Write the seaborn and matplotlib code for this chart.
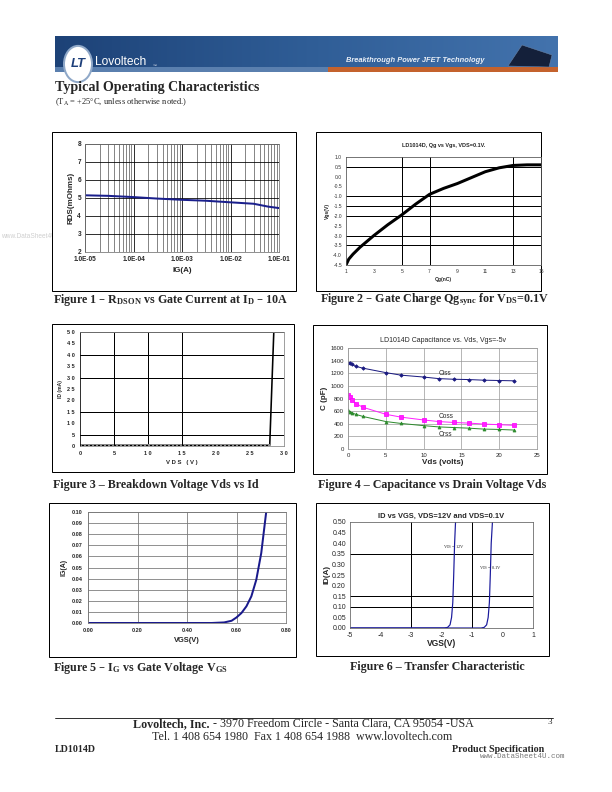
import numpy as np
import pandas as pd
import matplotlib
matplotlib.use("Agg")
import matplotlib.pyplot as plt
import seaborn as sns
from matplotlib.patches import Rectangle, Circle, Polygon
from matplotlib.ticker import LogLocator, NullFormatter

sns.set_style("white")
plt.rcParams['font.family'] = ['Liberation Sans', 'DejaVu Sans']
plt.rcParams['mathtext.default'] = 'regular'
plt.rcParams['axes.unicode_minus'] = False

W, H = 612, 792

# Figure 1 - RDSON vs gate current
ig_1 = [1e-5, 3e-5, 1e-4, 3e-4, 1e-3, 3e-3, 1e-2, 3e-2, 6e-2, 1e-1]
rds_1 = [5.15, 5.12, 5.05, 4.97, 4.90, 4.85, 4.76, 4.68, 4.52, 4.44]

# Figure 2 - gate charge
qg_2 = [1, 1.2, 1.5, 2, 3, 4, 5, 6, 7, 8, 9, 10, 11, 12, 13, 14, 15]
vgs_2 = [-4.5, -4.2, -3.95, -3.6, -3.0, -2.45, -1.95, -1.4, -0.9, -0.6,
         -0.35, -0.05, 0.25, 0.45, 0.57, 0.6, 0.6]

# Figure 3 - breakdown
vds_3 = [0, 27.9, 28.5]
id_3 = [0.3, 0.3, 50]

# Figure 4 - capacitance
vds_4 = [0, 0.2, 0.5, 1, 2, 5, 7, 10, 12, 14, 16, 18, 20, 22]
ciss = [1370, 1360, 1340, 1310, 1280, 1210, 1170, 1140, 1115, 1105, 1100, 1090, 1085, 1080]
coss = [860, 830, 780, 720, 660, 550, 505, 460, 435, 420, 410, 395, 385, 375]
crss = [610, 590, 575, 550, 515, 435, 405, 370, 350, 340, 330, 315, 310, 300]

# Figure 5 - IG vs VGS
vgs_5 = [0, 0.50, 0.55, 0.58, 0.60, 0.62, 0.64, 0.66, 0.68, 0.70, 0.72]
ig_5 = [0, 0, 0.0005, 0.002, 0.005, 0.009, 0.015, 0.024, 0.039, 0.063, 0.1]

# Figure 6 - transfer characteristic
vgs_12v = [-5, -1.9, -1.8, -1.72, -1.67, -1.63, -1.6, -1.57, -1.54]
id_12v = [0, 0, 0.003, 0.015, 0.05, 0.12, 0.25, 0.4, 0.5]
vgs_01v = [-5, -0.7, -0.6, -0.52, -0.47, -0.43, -0.4, -0.37, -0.33]
id_01v = [0, 0, 0.003, 0.015, 0.05, 0.12, 0.25, 0.4, 0.5]

fig = plt.figure(figsize=(W / 72, H / 72), dpi=72)


def box(x0, y0, x1, y1):
    return [x0 / W, 1 - y1 / H, (x1 - x0) / W, (y1 - y0) / H]


def ftext(x, y, s, **kw):
    kw.setdefault('va', 'center')
    return fig.text(x / W, 1 - y / H, s, **kw)


def frame(x0, y0, x1, y1, **kw):
    kw.setdefault('ec', 'black')
    kw.setdefault('lw', 1)
    kw.setdefault('fc', 'white')
    kw.setdefault('zorder', -0.5)
    r = Rectangle((x0 / W, 1 - y1 / H), (x1 - x0) / W, (y1 - y0) / H,
                  transform=fig.transFigure, **kw)
    fig.patches.append(r)
    return r


serif = dict(family=['Liberation Serif', 'DejaVu Serif'])

# ---------- header banner ----------
ax_b = fig.add_axes(box(55, 36, 558, 72))
grad = np.linspace(0, 1, 256).reshape(1, -1)
cmap = matplotlib.colors.LinearSegmentedColormap.from_list('bn', ['#1d4277', '#2f5d96', '#4373ad'])
ax_b.imshow(grad, aspect='auto', cmap=cmap, extent=[0, 1, 0, 1])
ax_b.set_axis_off()
frame(55, 67, 328, 72, ec='none', fc='#5a7fae', zorder=1)
frame(328, 67, 558, 72, ec='none', fc='#c4622d', zorder=1)
fig.patches.append(Polygon([(508 / W, 1 - 66 / H), (522 / W, 1 - 45 / H), (552 / W, 1 - 55 / H),
                            (549 / W, 1 - 67 / H)], closed=True, transform=fig.transFigure,
                           fc='#14203a', ec='#6b85a8', lw=0.5, zorder=2))
fig.patches.append(Circle((78 / W, 1 - 64 / H), 14 / W, transform=fig.transFigure,
                          fc='white', ec='#8fa8c8', lw=2, zorder=2))
ftext(78, 64, 'LT', color='#1d3f7a', size=13, weight='bold', ha='center', style='italic')
ftext(95, 62, 'Lovoltech', color='white', size=12)
ftext(153, 66, '™', color='white', size=4)
ftext(415, 60, 'Breakthrough Power JFET Technology', color='#e8eef6', size=7.5,
      weight='bold', style='italic', ha='center')

ftext(55, 88, 'Typical Operating Characteristics', size=14, weight='bold', **serif)
ftext(55, 102, '(T$_A$ = +25°C, unless otherwise noted.)', size=8.5, **serif)

# watermark (partly hidden behind the first panel)
ftext(1, 236, 'www.DataSheet4U.com', color='#cfcfcf', size=6.5, zorder=-1)

# ---------- Figure 1 ----------
frame(52, 132, 296, 291)
ax1 = fig.add_axes(box(85, 144, 279, 252))
sns.lineplot(x=ig_1, y=rds_1, ax=ax1, color='#1a1f8c', lw=2, estimator=None)
ax1.set_xscale('log')
ax1.set_xlim(1e-5, 1e-1)
ax1.set_ylim(2, 8)
ax1.set_xticks([1e-5, 1e-4, 1e-3, 1e-2, 1e-1])
ax1.set_xticklabels(['1.0E-05', '1.0E-04', '1.0E-03', '1.0E-02', '1.0E-01'])
ax1.xaxis.set_minor_locator(LogLocator(base=10, subs=np.arange(2, 10)))
ax1.xaxis.set_minor_formatter(NullFormatter())
ax1.grid(True, which='major', color='black', lw=0.8)
ax1.grid(True, which='minor', axis='x', color='#555555', lw=0.7)
ax1.tick_params(labelsize=6.5, length=2, pad=2, which='major')
ax1.tick_params(which='minor', length=0)
for t in ax1.get_xticklabels() + ax1.get_yticklabels():
    t.set_fontweight('bold')
ax1.set_xlabel('IG(A)', size=8, weight='bold', labelpad=4)
ax1.set_ylabel('RDS(mOhms)', size=8, weight='bold', labelpad=3)
for s in ax1.spines.values():
    s.set_color('#777777')
ftext(53, 300, 'Figure 1 – R$_{DSON}$ vs Gate Current at I$_D$ – 10A', size=12, weight='bold', **serif)

# ---------- Figure 2 ----------
frame(316, 132, 541, 291)
ax2 = fig.add_axes(box(346, 157, 541, 265))
sns.lineplot(x=qg_2, y=vgs_2, ax=ax2, color='black', lw=3, estimator=None)
ax2.set_xlim(1, 15)
ax2.set_ylim(-4.5, 1.0)
ax2.set_xticks(range(1, 16, 2))
ax2.set_yticks(np.arange(-4.5, 1.01, 0.5))
ax2.set_yticklabels([f'{v:.1f}' for v in np.arange(-4.5, 1.01, 0.5)])
for v in [0.5, -1.0, -1.5, -2.0, -3.0, -3.5]:
    ax2.axhline(v, color='black', lw=1, zorder=0)
for v in [5, 7, 13]:
    ax2.axvline(v, color='black', lw=1, zorder=0)
ax2.tick_params(labelsize=5, length=2, pad=2, colors='#333333')
ax2.set_xlabel('Qg(nC)', size=5, weight='bold', labelpad=3)
ax2.set_ylabel('Vgs(V)', size=5, weight='bold', labelpad=3)
ax2.set_title('LD1014D, Qg vs Vgs, VDS=0.1V.', size=5.5, weight='bold', pad=10)
for s in ax2.spines.values():
    s.set_color('#555555')
ftext(320, 300, 'Figure 2 – Gate Charge Qg$_{sync}$ for V$_{DS}$=0.1V', size=12, weight='bold', **serif)

# ---------- Figure 3 ----------
frame(52, 324, 294, 472)
ax3 = fig.add_axes(box(80, 332, 284, 446))
sns.lineplot(x=vds_3, y=id_3, ax=ax3, color='black', lw=1.6, estimator=None)
ax3.plot([0, 27.9], [0.3, 0.3], color='#888888', lw=2, ls=(0, (1, 1)))
ax3.set_xlim(0, 30)
ax3.set_ylim(0, 50)
ax3.set_xticks(range(0, 31, 5))
ax3.set_xticklabels(['0', '5', '1 0', '1 5', '2 0', '2 5', '3 0'])
ax3.set_yticks(range(0, 51, 5))
ax3.set_yticklabels(['0', '5', '1 0', '1 5', '2 0', '2 5', '3 0', '3 5', '4 0', '4 5', '5 0'])
for v in [50, 40, 30, 15, 5]:
    ax3.axhline(v, color='black', lw=1, zorder=0)
for v in [5, 10, 15]:
    ax3.axvline(v, color='black', lw=1, zorder=0)
ax3.tick_params(labelsize=5.5, length=2, pad=3)
for t in ax3.get_xticklabels() + ax3.get_yticklabels():
    t.set_fontweight('bold')
ax3.set_xlabel('V D S   ( V )', size=6, weight='bold', labelpad=4)
ax3.set_ylabel('ID (mA)', size=5, weight='bold', labelpad=4)
for s in ax3.spines.values():
    s.set_color('#888888')
ax3.spines['left'].set_color('black')
ftext(53, 485, 'Figure 3 – Breakdown Voltage Vds vs Id', size=12, weight='bold', **serif)

# ---------- Figure 4 ----------
frame(313, 325, 547, 474)
ax4 = fig.add_axes(box(348, 348, 537, 449))
sns.lineplot(x=vds_4, y=ciss, ax=ax4, color='#1a1a80', lw=1, marker='D', markersize=2.5,
             markeredgecolor='#1a1a80', estimator=None)
sns.lineplot(x=vds_4, y=coss, ax=ax4, color='#ff22ff', lw=1, marker='s', markersize=4,
             markeredgecolor='#ff00ff', estimator=None)
sns.lineplot(x=vds_4, y=crss, ax=ax4, color='#2e8b2e', lw=1, marker='^', markersize=3,
             markeredgecolor='#2e8b2e', estimator=None)
ax4.set_xlim(0, 25)
ax4.set_ylim(0, 1600)
ax4.set_xticks(range(0, 26, 5))
ax4.set_yticks(range(0, 1601, 200))
ax4.grid(True, color='#999999', lw=0.7)
ax4.tick_params(labelsize=6, length=2, pad=2)
ax4.text(12, 1170, 'Ciss', size=6.5)
ax4.text(12, 490, 'Coss', size=6.5)
ax4.text(12, 210, 'Crss', size=6.5)
ax4.set_xlabel('Vds (volts)', size=8, weight='bold', labelpad=1)
ax4.set_ylabel('C (pF)', size=8, weight='bold', labelpad=2)
ax4.set_title('LD1014D Capacitance vs. Vds, Vgs=-5v', size=7, pad=6)
for s in ax4.spines.values():
    s.set_color('#999999')
ftext(318, 485, 'Figure 4 – Capacitance vs Drain Voltage Vds', size=12, weight='bold', **serif)

# ---------- Figure 5 ----------
frame(49, 503, 296, 657)
ax5 = fig.add_axes(box(88, 512, 286, 623))
sns.lineplot(x=vgs_5, y=ig_5, ax=ax5, color='#1a1a8c', lw=2, estimator=None)
ax5.set_xlim(0, 0.8)
ax5.set_ylim(0, 0.1)
ax5.set_xticks(np.arange(0, 0.81, 0.2))
ax5.set_xticklabels([f'{v:.2f}' for v in np.arange(0, 0.81, 0.2)])
ax5.set_yticks(np.arange(0, 0.101, 0.01))
ax5.set_yticklabels([f'{v:.2f}' for v in np.arange(0, 0.101, 0.01)])
ax5.grid(True, color='#777777', lw=0.8)
ax5.tick_params(labelsize=5.5, length=2, pad=3)
for t in ax5.get_xticklabels() + ax5.get_yticklabels():
    t.set_fontweight('bold')
ax5.set_xlabel('VGS(V)', size=7.5, weight='bold', labelpad=4)
ax5.set_ylabel('IG(A)', size=7, weight='bold', labelpad=4)
for s in ax5.spines.values():
    s.set_color('#777777')
ftext(53, 668, 'Figure 5 – I$_G$ vs Gate Voltage V$_{GS}$', size=12, weight='bold', **serif)

# ---------- Figure 6 ----------
frame(316, 503, 549, 656)
ax6 = fig.add_axes(box(350, 522, 533, 628))
sns.lineplot(x=vgs_12v, y=id_12v, ax=ax6, color='#1a1a9c', lw=1.2, estimator=None)
sns.lineplot(x=vgs_01v, y=id_01v, ax=ax6, color='#1a1a9c', lw=1.2, estimator=None)
ax6.set_xlim(-5, 1)
ax6.set_ylim(0, 0.5)
ax6.set_xticks(range(-5, 2))
ax6.set_yticks(np.arange(0, 0.501, 0.05))
ax6.set_yticklabels([f'{v:.2f}' for v in np.arange(0, 0.501, 0.05)])
for v in [0.35, 0.15, 0.10]:
    ax6.axhline(v, color='black', lw=1, zorder=0)
for v in [-3, -1]:
    ax6.axvline(v, color='black', lw=1, zorder=0)
ax6.tick_params(labelsize=7, length=2, pad=2)
ax6.text(-1.6, 0.38, 'V$_{DS}$ = 12V', size=4.5, ha='center', va='center', **serif)
ax6.text(-0.4, 0.28, 'V$_{DS}$ = 0.1V', size=4.5, ha='center', va='center', **serif)
ax6.set_xlabel('VGS(V)', size=8.5, weight='bold', labelpad=0)
ax6.set_ylabel('ID(A)', size=8, weight='bold', labelpad=2)
ax6.set_title('ID vs VGS, VDS=12V and VDS=0.1V', size=7.5, weight='bold', pad=4)
for s in ax6.spines.values():
    s.set_color('#666666')
ftext(350, 667, 'Figure 6 – Transfer Characteristic', size=12, weight='bold', **serif)

# ---------- footer ----------
fig.add_artist(matplotlib.lines.Line2D([55 / W, 553 / W], [1 - 718 / H, 1 - 718 / H],
                                       color='black', lw=0.8))
ftext(133, 724, 'Lovoltech, Inc.', size=12, weight='bold', **serif)
ftext(210, 724, ' - 3970 Freedom Circle - Santa Clara, CA 95054 -USA', size=12, **serif)
ftext(302, 737, 'Tel. 1 408 654 1980  Fax 1 408 654 1988  www.lovoltech.com', size=12,
      ha='center', **serif)
ftext(548, 722, '3', size=9, **serif)
ftext(55, 750, 'LD1014D', size=10, weight='bold', **serif)
ftext(452, 750, 'Product Specification', size=10, weight='bold', **serif)
ftext(480, 757, 'www.DataSheet4U.com', size=7.5, color='#777777',
      family=['Liberation Mono', 'DejaVu Sans Mono'])

fig.savefig('out.png', dpi=72)
